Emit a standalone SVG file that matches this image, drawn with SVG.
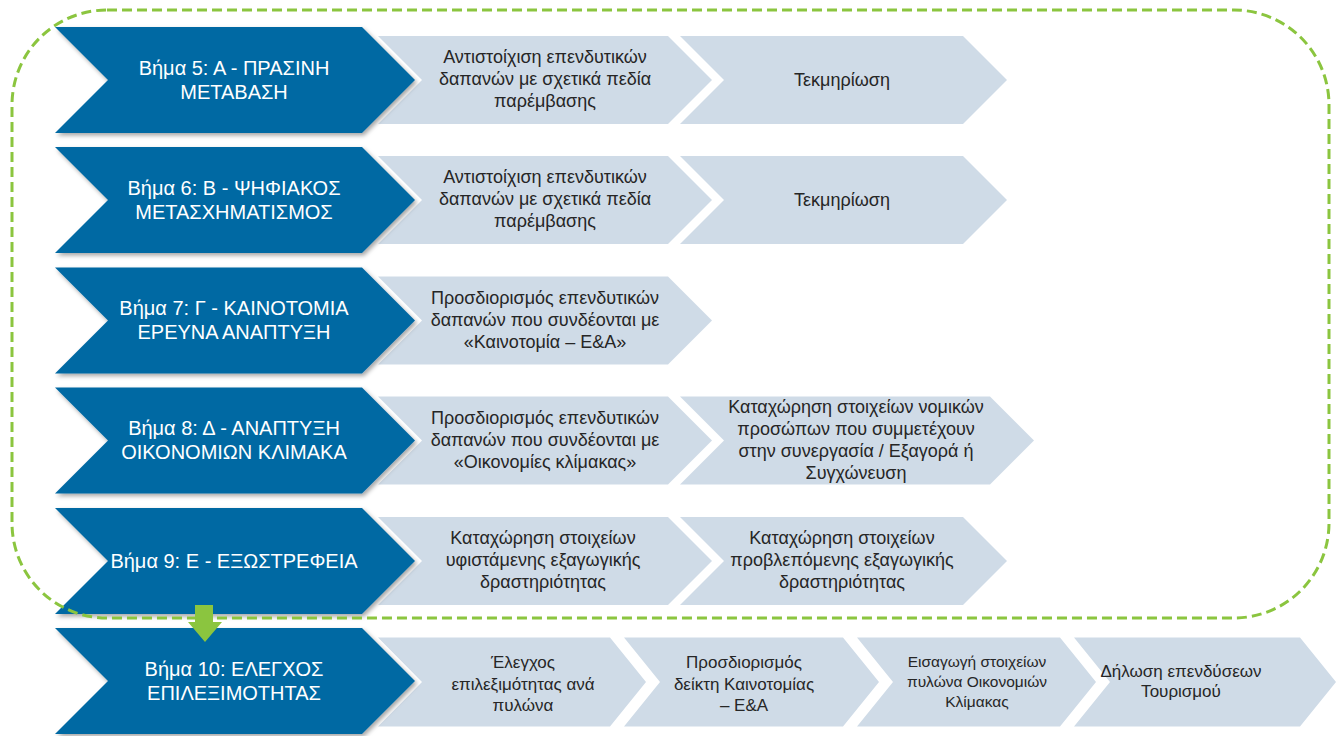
<svg xmlns="http://www.w3.org/2000/svg" width="1341" height="736" viewBox="0 0 1341 736">
<defs>
<filter id="sh" x="-5%" y="-5%" width="115%" height="120%">
<feDropShadow dx="2" dy="2.5" stdDeviation="2" flood-color="#000" flood-opacity="0.35"/>
</filter>
</defs>
<style>
.blue{fill:#0469A3;filter:url(#sh)}
.light{fill:#CFDBE7}
.bt{font-family:"Liberation Sans",Arial,sans-serif;font-size:20px;fill:#FFFFFF;text-anchor:middle}
.lt{font-family:"Liberation Sans",Arial,sans-serif;font-size:18px;fill:#262626;text-anchor:middle}
.st{font-family:"Liberation Sans",Arial,sans-serif;font-size:17px;fill:#262626;text-anchor:middle}
.xt{font-family:"Liberation Sans",Arial,sans-serif;font-size:15.5px;fill:#262626;text-anchor:middle}
.dash{fill:none;stroke:#8BC53F;stroke-width:3;stroke-dasharray:10 5}
.garrow{fill:#8BC53F}
</style>
<rect width="1341" height="736" fill="#FFFFFF"/>

<!-- light chevrons -->
<g id="row1-steps">
<polygon class="light" points="378,36 668,36 712,80 668,124 378,124 422,80"/>
<text class="lt" x="545" y="63">Αντιστοίχιση επενδυτικών</text>
<text class="lt" x="545" y="85">δαπανών με σχετικά πεδία</text>
<text class="lt" x="545" y="107">παρέμβασης</text>
<polygon class="light" points="680,36 963,36 1007,80 963,124 680,124 724,80"/>
<text class="lt" x="842" y="86">Τεκμηρίωση</text>
</g>
<g id="row2-steps">
<polygon class="light" points="378,156 668,156 712,200 668,244 378,244 422,200"/>
<text class="lt" x="545" y="183">Αντιστοίχιση επενδυτικών</text>
<text class="lt" x="545" y="205">δαπανών με σχετικά πεδία</text>
<text class="lt" x="545" y="227">παρέμβασης</text>
<polygon class="light" points="680,156 963,156 1007,200 963,244 680,244 724,200"/>
<text class="lt" x="842" y="206">Τεκμηρίωση</text>
</g>
<g id="row3-steps">
<polygon class="light" points="378,276.5 668,276.5 712,320.5 668,364.5 378,364.5 422,320.5"/>
<text class="lt" x="545" y="304">Προσδιορισμός επενδυτικών</text>
<text class="lt" x="545" y="326">δαπανών που συνδέονται με</text>
<text class="lt" x="545" y="348">«Καινοτομία – Ε&amp;Α»</text>
</g>
<g id="row4-steps">
<polygon class="light" points="378,396.5 668,396.5 712,440.5 668,484.5 378,484.5 422,440.5"/>
<text class="lt" x="545" y="424">Προσδιορισμός επενδυτικών</text>
<text class="lt" x="545" y="446">δαπανών που συνδέονται με</text>
<text class="lt" x="545" y="468">«Οικονομίες κλίμακας»</text>
<polygon class="light" points="680,396.5 990,396.5 1034,440.5 990,484.5 680,484.5 724,440.5"/>
<text class="lt" x="856" y="413">Καταχώρηση στοιχείων νομικών</text>
<text class="lt" x="856" y="435">προσώπων που συμμετέχουν</text>
<text class="lt" x="856" y="457">στην συνεργασία / Εξαγορά ή</text>
<text class="lt" x="856" y="479">Συγχώνευση</text>
</g>
<g id="row5-steps">
<polygon class="light" points="378,517 668,517 712,561 668,605 378,605 422,561"/>
<text class="lt" x="543" y="544">Καταχώρηση στοιχείων</text>
<text class="lt" x="543" y="566">υφιστάμενης εξαγωγικής</text>
<text class="lt" x="543" y="588">δραστηριότητας</text>
<polygon class="light" points="680,517 963,517 1007,561 963,605 680,605 724,561"/>
<text class="lt" x="842" y="544">Καταχώρηση στοιχείων</text>
<text class="lt" x="842" y="566">προβλεπόμενης εξαγωγικής</text>
<text class="lt" x="842" y="588">δραστηριότητας</text>
</g>
<g id="row6-steps">
<polygon class="light" points="378,637.5 610,637.5 646,682 610,726.5 378,726.5 422,682"/>
<text class="st" x="523" y="668">Έλεγχος</text>
<text class="st" x="523" y="690">επιλεξιμότητας ανά</text>
<text class="st" x="523" y="711">πυλώνα</text>
<polygon class="light" points="624,637.5 843,637.5 879,682 843,726.5 624,726.5 660,682"/>
<text class="st" x="744" y="668">Προσδιορισμός</text>
<text class="st" x="744" y="690">δείκτη Καινοτομίας</text>
<text class="st" x="744" y="711">– Ε&amp;Α</text>
<polygon class="light" points="857,637.5 1060,637.5 1096,682 1060,726.5 857,726.5 893,682"/>
<text class="xt" x="977" y="667">Εισαγωγή στοιχείων</text>
<text class="xt" x="977" y="687">πυλώνα Οικονομιών</text>
<text class="xt" x="977" y="707">Κλίμακας</text>
<polygon class="light" points="1074,637.5 1300,637.5 1336,682 1300,726.5 1074,726.5 1110,682"/>
<text class="st" x="1181" y="677">Δήλωση επενδύσεων</text>
<text class="st" x="1181" y="697">Τουρισμού</text>
</g>

<!-- blue chevrons -->
<g id="step5">
<polygon class="blue" points="55,27 362,27 415,80 362,133 55,133 108,80"/>
<text class="bt" x="234" y="75">Βήμα 5: Α - ΠΡΑΣΙΝΗ</text>
<text class="bt" x="234" y="99">ΜΕΤΑΒΑΣΗ</text>
</g>
<g id="step6">
<polygon class="blue" points="55,147 362,147 415,200 362,253 55,253 108,200"/>
<text class="bt" x="234" y="195">Βήμα 6: Β - ΨΗΦΙΑΚΟΣ</text>
<text class="bt" x="234" y="219">ΜΕΤΑΣΧΗΜΑΤΙΣΜΟΣ</text>
</g>
<g id="step7">
<polygon class="blue" points="55,267.5 362,267.5 415,320.5 362,373.5 55,373.5 108,320.5"/>
<text class="bt" x="234" y="315">Βήμα 7: Γ - ΚΑΙΝΟΤΟΜΙΑ</text>
<text class="bt" x="234" y="339">ΕΡΕΥΝΑ ΑΝΑΠΤΥΞΗ</text>
</g>
<g id="step8">
<polygon class="blue" points="55,387.5 362,387.5 415,440.5 362,493.5 55,493.5 108,440.5"/>
<text class="bt" x="234" y="435">Βήμα 8: Δ - ΑΝΑΠΤΥΞΗ</text>
<text class="bt" x="234" y="459">ΟΙΚΟΝΟΜΙΩΝ ΚΛΙΜΑΚΑ</text>
</g>
<g id="step9">
<polygon class="blue" points="55,508 362,508 415,561 362,614 55,614 108,561"/>
<text class="bt" x="234" y="568">Βήμα 9: Ε - ΕΞΩΣΤΡΕΦΕΙΑ</text>
</g>
<g id="step10">
<polygon class="blue" points="55,628 362,628 415,681 362,734 55,734 108,681"/>
<text class="bt" x="234" y="676">Βήμα 10: ΕΛΕΓΧΟΣ</text>
<text class="bt" x="234" y="700">ΕΠΙΛΕΞΙΜΟΤΗΤΑΣ</text>
</g>

<!-- connectors -->
<g id="connectors">
<rect class="dash" x="12" y="10" width="1317" height="608" rx="95" ry="95"/>
<polygon class="garrow" points="195,605 213,605 213,622 222,622 205,642 188,622 195,622"/>
</g>
</svg>
